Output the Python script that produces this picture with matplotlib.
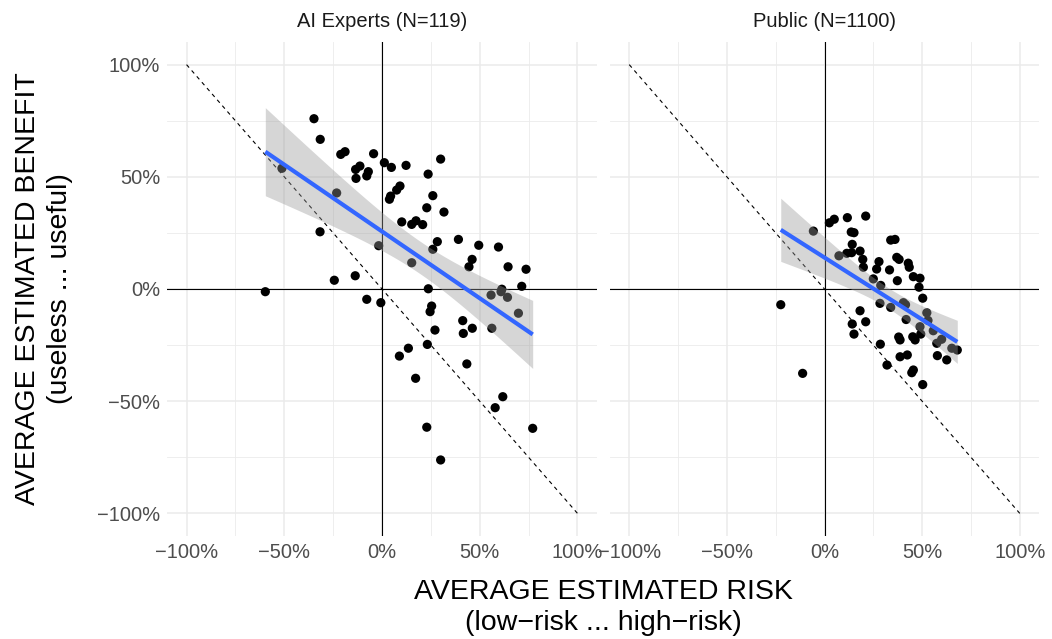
import numpy as np
import matplotlib
matplotlib.use("Agg")
import matplotlib.pyplot as plt

plt.rcParams['font.family'] = ['Liberation Sans', 'DejaVu Sans']

# ---------------- data ----------------
panel_titles = ["AI Experts (N=119)", "Public (N=1100)"]

expert_risk = [-34.8, -31.6, -21.1, -18.9, -4.3, -13.5, -11.3, -13.3, -7.0, -7.8,
               -51.2, -23.2, -31.7, -1.7, -24.4, -13.7, -59.7, -7.8, -0.6, 1.2,
               4.8, 12.3, 30.0, 23.6, 9.2, 7.5, 4.4, 3.8, 26.0, 22.9,
               31.7, 10.1, 15.2, 17.4, 20.8, 15.2, 28.3, 26.0, 39.1, 49.5,
               59.6, 46.1, 44.5, 64.5, 73.7, 23.7, 61.3, 71.5, 55.8, 60.9,
               64.2, 69.8, 56.2, 25.4, 24.6, 27.1, 41.3, 41.6, 46.2, 23.2,
               13.5, 8.9, 43.4, 17.2, 61.8, 57.9, 22.9, 77.1, 30.0]
expert_benefit = [75.9, 66.7, 60.0, 61.2, 60.3, 53.3, 54.8, 49.3, 52.3, 50.4,
                  53.8, 42.8, 25.5, 19.3, 3.9, 5.9, -1.2, -4.6, -6.1, 56.3,
                  54.2, 55.1, 57.9, 51.2, 45.9, 44.1, 41.4, 40.0, 41.6, 36.2,
                  34.3, 29.9, 28.8, 30.4, 28.7, 11.7, 21.1, 17.7, 22.1, 19.5,
                  18.7, 13.2, 9.9, 9.9, 8.8, 0.1, -0.1, 1.2, -2.7, -1.2,
                  -3.7, -10.8, -17.5, -7.6, -10.1, -18.3, -14.1, -19.8, -17.5, -24.7,
                  -26.4, -29.9, -33.4, -39.8, -48.0, -52.9, -61.6, -62.1, -76.2]

public_risk = [-5.7, -22.4, -11.2, 2.5, 5.0, 11.7, 21.1, 13.7, 15.1, 14.2,
               11.4, 13.9, 18.2, 7.4, 19.6, 19.9, 27.9, 26.7, 33.9, 36.1,
               33.3, 37.0, 38.2, 42.9, 43.4, 37.3, 25.0, 28.8, 45.5, 48.9,
               48.4, 50.3, 28.4, 33.9, 40.4, 41.5, 41.8, 52.4, 53.0, 18.2,
               21.1, 14.2, 15.1, 28.6, 32.0, 38.0, 38.7, 45.2, 46.4, 48.9,
               49.3, 55.7, 57.5, 60.0, 65.2, 68.0, 57.8, 62.6, 38.7, 42.4,
               45.5, 44.7, 50.3]
public_benefit = [25.8, -7.0, -37.6, 29.5, 31.1, 31.8, 32.5, 25.4, 25.1, 19.9,
                  15.9, 16.2, 16.9, 14.8, 13.2, 9.7, 12.2, 8.9, 21.8, 22.1,
                  8.5, 14.1, 13.2, 11.5, 9.7, 3.7, 4.5, 1.6, 5.5, 4.8,
                  0.8, -4.1, -6.4, -8.2, -6.1, -7.0, -13.6, -10.6, -14.0, -9.7,
                  -14.6, -15.6, -20.1, -24.6, -33.9, -21.4, -22.7, -21.3, -22.7, -16.8,
                  -20.1, -18.6, -24.2, -22.4, -26.4, -27.2, -29.7, -31.6, -30.2, -29.4,
                  -36.1, -37.3, -42.6]

tick_values = [-100, -50, 0, 50, 100]
tick_labels = ["\u2212100%", "\u221250%", "0%", "50%", "100%"]
minor_values = [-75, -25, 25, 75]
diag_x = [-100, 100]
diag_y = [100, -100]
T_CRIT = 1.996

# ---------------- figure ----------------
W, H = 1052, 639
fig = plt.figure(figsize=(W / 100, H / 100), dpi=100)

def fx(px):
    return px / W

def fy(py):
    return 1 - py / H

panel_top, panel_bot = 42.2, 535.8
panels = [(167.0, 597.0), (609.7, 1039.3)]
grid_col = "#EBEBEB"

datasets = [(expert_risk, expert_benefit), (public_risk, public_benefit)]

for i, ((l, r), (xs, ys)) in enumerate(zip(panels, datasets)):
    ax = fig.add_axes([fx(l), fy(panel_bot), fx(r - l), (panel_bot - panel_top) / H])
    ax.set_xlim(-110, 110)
    ax.set_ylim(-110, 110)
    for s in ax.spines.values():
        s.set_visible(False)
    ax.set_facecolor("white")
    for v in tick_values:
        ax.axvline(v, color=grid_col, lw=1.1, zorder=0)
        ax.axhline(v, color=grid_col, lw=1.1, zorder=0)
    for v in minor_values:
        ax.axvline(v, color=grid_col, lw=0.6, zorder=0)
        ax.axhline(v, color=grid_col, lw=0.6, zorder=0)
    ax.axvline(0, color="black", lw=0.8, zorder=1)
    ax.axhline(0, color="black", lw=0.8, zorder=1)
    ax.plot(diag_x, diag_y, color="black", lw=0.8, ls=(0, (3.5, 3.5)), zorder=1)

    x = np.asarray(xs, float)
    y = np.asarray(ys, float)
    ax.scatter(x, y, s=44, color="black", edgecolors="none", zorder=2)

    n = len(x)
    b, a = np.polyfit(x, y, 1)
    resid = y - (a + b * x)
    s_err = np.sqrt(np.sum(resid ** 2) / (n - 2))
    xx = np.linspace(x.min(), x.max(), 100)
    yy = a + b * xx
    se = s_err * np.sqrt(1 / n + (xx - x.mean()) ** 2 / np.sum((x - x.mean()) ** 2))
    ax.fill_between(xx, yy - T_CRIT * se, yy + T_CRIT * se, color="#999999",
                    alpha=0.4, lw=0, zorder=3)
    ax.plot(xx, yy, color="#3366FF", lw=3, zorder=4, solid_capstyle="butt")

    ax.set_xticks(tick_values)
    ax.set_xticklabels(tick_labels)
    ax.set_yticks(tick_values)
    if i == 0:
        ax.set_yticklabels(tick_labels)
    else:
        ax.set_yticklabels([])
    ax.tick_params(length=0, labelsize=14.5, labelcolor="#4D4D4D", pad=5)
    ax.set_title(panel_titles[i], fontsize=14.5, color="#1A1A1A", pad=11)

fig.text(fx(603), fy(592), "AVERAGE ESTIMATED RISK", ha="center", va="center",
         fontsize=20.5, color="black")
fig.text(fx(603), fy(623), "(low\u2212risk ... high\u2212risk)", ha="center",
         va="center", fontsize=20.5, color="black")
fig.text(fx(28), fy(289), "AVERAGE ESTIMATED BENEFIT", ha="center", va="center",
         rotation=90, fontsize=20.5, color="black")
fig.text(fx(60), fy(289), "(useless ... useful)", ha="center", va="center",
         rotation=90, fontsize=20.5, color="black")

fig.savefig("out.png", dpi=100, facecolor="white")
